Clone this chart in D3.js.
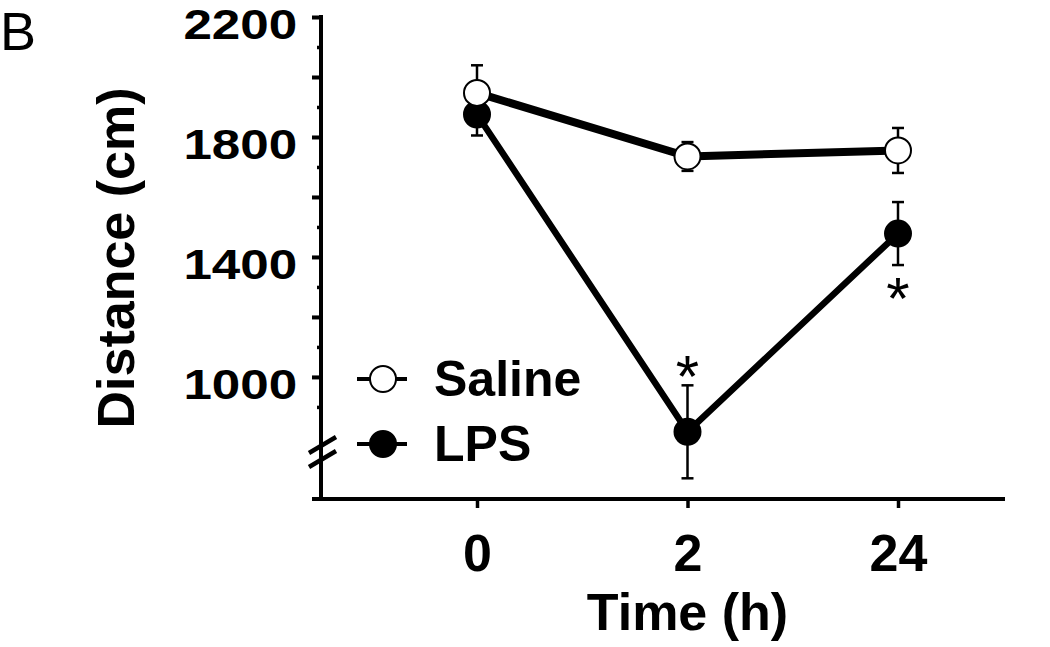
<!DOCTYPE html>
<html>
<head>
<meta charset="utf-8">
<script src="https://cdnjs.cloudflare.com/ajax/libs/d3/7.8.5/d3.min.js"></script>
<style>
  body { margin: 0; background: #fff; }
  text { font-family: "Liberation Sans", Arial, sans-serif; fill: #000; }
</style>
</head>
<body>
<script>
// get the data
var categories = ["0", "2", "24"];
var salineMean = [1947, 1735, 1755];
var salineSem  = [92, 48, 75];
var lpsMean    = [1875, 817, 1478];
var lpsSem     = [70, 155, 105];
var signif     = [null, "above", "below"];   // LPS vs saline asterisks
var yMajor     = [2200, 2000, 1800, 1600, 1400, 1200, 1000];
var yMinor     = [2100, 1900, 1700, 1500, 1300, 1100, 900];
var yLabels    = [2200, 1800, 1400, 1000];

var width = 1050,
    height = 647;

var svg = d3.select("body").append("svg")
    .attr("width", width)
    .attr("height", height);

var y = d3.scaleLinear()
    .domain([593, 2200])
    .range([499, 17]);

var x = d3.scalePoint()
    .domain(categories)
    .range([477, 898]);

var axisX0 = 321;

// y axis: major ticks with labels every 400
var yAxis = svg.append("g")
    .attr("transform", "translate(" + axisX0 + ",0)")
    .call(d3.axisLeft(y)
        .tickValues(yMajor)
        .tickSize(9)
        .tickPadding(21)
        .tickFormat(function(d) { return yLabels.indexOf(d) >= 0 ? d : ""; }));

yAxis.select(".domain").remove();
yAxis.selectAll(".tick line").attr("stroke", "#000").attr("stroke-width", 4);
// labels are a bit wider than plain bold Arial in the original
yAxis.selectAll(".tick text")
    .style("font-size", "43px")
    .style("font-weight", "bold")
    .attr("dy", "0.51em")
    .attr("x", -20)
    .attr("transform", "scale(1.19,1)");

// minor ticks
svg.append("g")
    .attr("transform", "translate(" + axisX0 + ",0)")
    .call(d3.axisLeft(y).tickValues(yMinor).tickSize(4).tickFormat(""))
    .call(function(g) {
        g.select(".domain").remove();
        g.selectAll(".tick line").attr("stroke", "#000").attr("stroke-width", 3.5);
    });

// axis lines
svg.append("line")
    .attr("x1", axisX0).attr("x2", axisX0)
    .attr("y1", y(2200) - 2).attr("y2", y.range()[0])
    .attr("stroke", "#000").attr("stroke-width", 4);

svg.append("line")
    .attr("x1", axisX0 - 9).attr("x2", 1005)
    .attr("y1", y.range()[0]).attr("y2", y.range()[0])
    .attr("stroke", "#000").attr("stroke-width", 4);

// axis break marks
[0, 14].forEach(function(off) {
    svg.append("line")
        .attr("x1", axisX0 - 12).attr("y1", 453 + off)
        .attr("x2", axisX0 + 15).attr("y2", 437 + off)
        .attr("stroke", "#000").attr("stroke-width", 4.5);
});

// x axis ticks + labels
var xAxis = svg.append("g")
    .attr("transform", "translate(0," + y.range()[0] + ")")
    .call(d3.axisBottom(x).tickSize(9).tickPadding(26));

xAxis.select(".domain").remove();
xAxis.selectAll(".tick line").attr("stroke", "#000").attr("stroke-width", 3.5);
xAxis.selectAll(".tick text")
    .style("font-size", "52px")
    .style("font-weight", "bold");

// axis titles
svg.append("text")
    .attr("x", x("2"))
    .attr("y", 630)
    .attr("text-anchor", "middle")
    .style("font-size", "52px")
    .style("font-weight", "bold")
    .text("Time (h)");

svg.append("text")
    .attr("transform", "translate(134,258) rotate(-90)")
    .attr("text-anchor", "middle")
    .style("font-size", "52px")
    .style("font-weight", "bold")
    .text("Distance (cm)");

// panel letter
svg.append("text")
    .attr("x", 0)
    .attr("y", 50)
    .style("font-size", "54px")
    .text("B");

// series
var series = [
    {name: "Saline", mean: salineMean, sem: salineSem, fill: "#fff", lw: 8},
    {name: "LPS", mean: lpsMean, sem: lpsSem, fill: "#000", lw: 6.5}
];

var line = d3.line()
    .x(function(d) { return x(d.cat); })
    .y(function(d) { return y(d.v); });

series.forEach(function(s) {
    var pts = categories.map(function(c, i) {
        return {cat: c, v: s.mean[i], e: s.sem[i]};
    });
    var g = svg.append("g");

    g.append("path")
        .datum(pts)
        .attr("d", line)
        .attr("fill", "none")
        .attr("stroke", "#000")
        .attr("stroke-width", s.lw)
        .attr("stroke-linejoin", "round");

    // error bars
    var eb = g.selectAll(".eb")
        .data(pts)
        .enter().append("g");
    eb.append("line")
        .attr("x1", function(d) { return x(d.cat); })
        .attr("x2", function(d) { return x(d.cat); })
        .attr("y1", function(d) { return y(d.v + d.e); })
        .attr("y2", function(d) { return y(d.v - d.e); })
        .attr("stroke", "#000").attr("stroke-width", 2.5);
    [1, -1].forEach(function(sign) {
        eb.append("line")
            .attr("x1", function(d) { return x(d.cat) - 6; })
            .attr("x2", function(d) { return x(d.cat) + 6; })
            .attr("y1", function(d) { return y(d.v + sign * d.e); })
            .attr("y2", function(d) { return y(d.v + sign * d.e); })
            .attr("stroke", "#000").attr("stroke-width", 2.5);
    });

    g.selectAll("circle")
        .data(pts)
        .enter().append("circle")
        .attr("cx", function(d) { return x(d.cat); })
        .attr("cy", function(d) { return y(d.v); })
        .attr("r", 13)
        .attr("fill", s.fill)
        .attr("stroke", "#000")
        .attr("stroke-width", 2);
    s.g = g;
});

// draw saline on top of LPS at 0 h
series[0].g.raise();

// asterisks
categories.forEach(function(c, i) {
    if (!signif[i]) return;
    var cy = signif[i] == "above"
        ? y(lpsMean[i] + lpsSem[i]) - 22
        : y(lpsMean[i] - lpsSem[i]) + 20;
    svg.append("text")
        .attr("x", x(c))
        .attr("y", cy + 34)
        .attr("text-anchor", "middle")
        .style("font-size", "60px")
        .text("*");
});

// legend
var legend = svg.append("g");
series.forEach(function(s, i) {
    var ly = 379 + i * 65;
    legend.append("line")
        .attr("x1", 357).attr("x2", 407)
        .attr("y1", ly).attr("y2", ly)
        .attr("stroke", "#000").attr("stroke-width", 4);
    legend.append("circle")
        .attr("cx", 383).attr("cy", ly)
        .attr("r", 13)
        .attr("fill", s.fill)
        .attr("stroke", "#000")
        .attr("stroke-width", 2);
    legend.append("text")
        .attr("x", 434)
        .attr("y", ly + 17)
        .style("font-size", "50px")
        .style("font-weight", "bold")
        .text(s.name);
});
</script>
</body>
</html>
